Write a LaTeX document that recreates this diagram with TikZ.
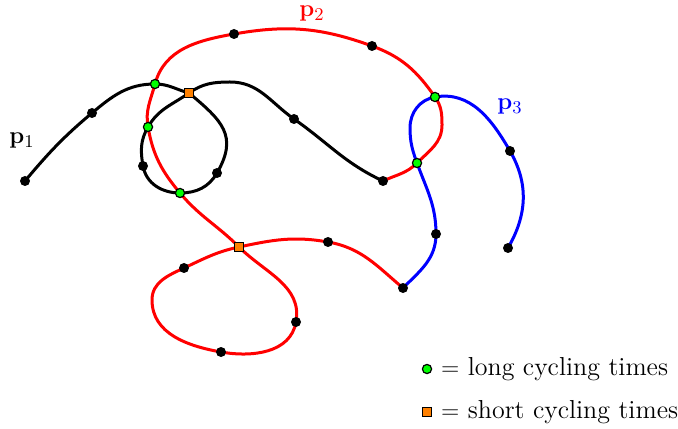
\documentclass[tikz,border=0pt]{standalone}
\usepackage{amsmath}
\tikzset{
  dot/.style={circle,fill=black,inner sep=0pt,minimum size=5pt},
  longcyc/.style={circle,draw=black,fill=green,line width=0.6pt,inner sep=0pt,minimum size=4.6pt},
  shortcyc/.style={rectangle,draw=black,fill=orange,line width=0.6pt,inner sep=0pt,minimum size=4.8pt},
  curve/.style={line width=1.5pt}
}
\begin{document}
\begin{tikzpicture}[x=0.5pt,y=0.5pt,font=\fontsize{13pt}{15.6pt}\selectfont]
    \useasboundingbox (0,0) rectangle (678,428);
    % points on the curves
    \coordinate (a0) at (25,247);
    \coordinate (a1) at (92,315);
    \coordinate (g1) at (155,344);
    \coordinate (s1) at (189,335);
    \coordinate (b1) at (217,255);
    \coordinate (g3) at (180,235);
    \coordinate (b2) at (143,262);
    \coordinate (g2) at (148,301);
    \coordinate (hump) at (230,346);
    \coordinate (b3) at (294,309);
    \coordinate (b4) at (383,247);
    \coordinate (g5) at (417,265);
    \coordinate (rr) at (442,303);
    \coordinate (g4) at (435,331);
    \coordinate (r1) at (372,382);
    \coordinate (r2) at (234,394);
    \coordinate (s2) at (239,181);
    \coordinate (r3) at (296,106);
    \coordinate (r4) at (221,76);
    \coordinate (rl) at (152,128);
    \coordinate (r5) at (184,160);
    \coordinate (r6) at (328,186);
    \coordinate (r7) at (403,140);
    \coordinate (b5) at (436,194);
    \coordinate (bl) at (410,300);
    \coordinate (b6) at (510,277);
    \coordinate (b7) at (508,180);
    % curve p1
    \draw[curve] (a0) to[out=50,in=220] (a1) to[out=40,in=180] (g1)
        to[out=0,in=165] (s1) to[out=-40,in=60,looseness=1.3] (b1)
        to[out=-120,in=0] (g3) to[out=180,in=-80] (b2)
        to[out=100,in=240] (g2) to[out=60,in=215] (s1)
        to[out=35,in=180] (hump) to[out=0,in=145] (b3)
        to[out=-35,in=155] (b4);
    % curve p2
    \draw[curve,red] (b4) to[out=25,in=225] (g5) to[out=45,in=-90] (rr)
        to[out=90,in=-55] (g4) to[out=125,in=-20] (r1)
        to[out=160,in=10] (r2) to[out=190,in=75] (g1)
        to[out=-105,in=100] (g2) to[out=-80,in=130] (g3)
        to[out=-50,in=135] (s2) to[out=-45,in=80] (r3)
        to[out=-100,in=-10] (r4) to[out=170,in=-90] (rl)
        to[out=90,in=205] (r5) to[out=25,in=192] (s2)
        to[out=12,in=170] (r6) to[out=-10,in=140] (r7);
    % curve p3
    \draw[curve,blue] (r7) to[out=45,in=-90] (b5) to[out=90,in=-70] (g5)
        to[out=110,in=-90] (bl) to[out=90,in=190] (g4)
        to[out=10,in=120] (b6) to[out=-60,in=60] (b7);
    % control points
    \foreach \p in {a0,a1,b1,b2,b3,b4,r1,r2,r3,r4,r5,r6,r7,b5,b6,b7}
        \node[dot] at (\p) {};
    \foreach \p in {g1,g2,g3,g4,g5}
        \node[longcyc] at (\p) {};
    \foreach \p in {s1,s2}
        \node[shortcyc] at (\p) {};
    % labels
    \node (lab1) at (22,287) {$\mathbf{p}_1$};
    \node[red] (lab2) at (312,414) {$\mathbf{p}_2$};
    \node[blue] (lab3) at (510,321) {$\mathbf{p}_3$};
    % legend
    \node[longcyc] (leglong) at (427,59) {};
    \node[anchor=west] (txtlong) at (434,59) {$=$ long cycling times};
    \node[shortcyc] (legshort) at (427,16) {};
    \node[anchor=west] (txtshort) at (434,16) {$=$ short cycling times};
\end{tikzpicture}
\end{document}
